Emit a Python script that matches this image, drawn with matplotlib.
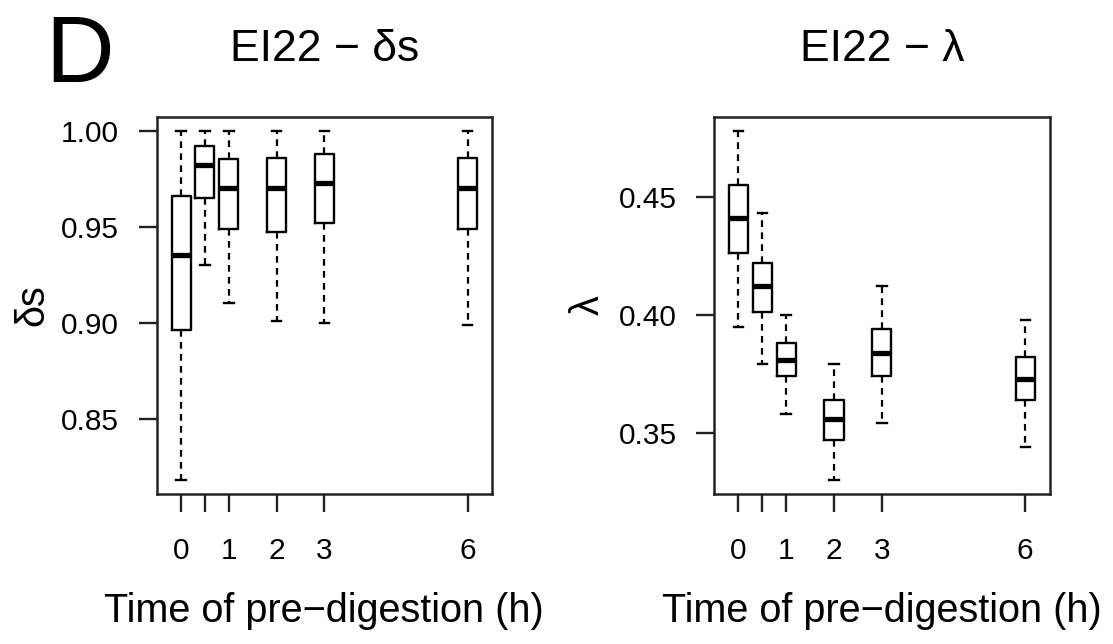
import matplotlib
matplotlib.use('Agg')
import matplotlib.pyplot as plt

plt.rcParams['font.family'] = ['Liberation Sans', 'DejaVu Sans']

# pre-digestion times (h) and box statistics
times = [0, 0.5, 1, 2, 3, 6]
tick_labels = ['0', '', '1', '2', '3', '6']

ds_whislo = [0.818, 0.930, 0.910, 0.901, 0.900, 0.899]
ds_q1 = [0.896, 0.965, 0.949, 0.947, 0.952, 0.949]
ds_med = [0.935, 0.982, 0.970, 0.970, 0.973, 0.970]
ds_q3 = [0.966, 0.992, 0.985, 0.986, 0.988, 0.986]
ds_whishi = [1.000, 1.000, 1.000, 1.000, 1.000, 1.000]

lam_whislo = [0.395, 0.379, 0.358, 0.330, 0.354, 0.344]
lam_q1 = [0.426, 0.401, 0.374, 0.347, 0.374, 0.364]
lam_med = [0.441, 0.412, 0.381, 0.356, 0.384, 0.373]
lam_q3 = [0.455, 0.422, 0.388, 0.364, 0.394, 0.382]
lam_whishi = [0.478, 0.443, 0.400, 0.379, 0.412, 0.398]


def make_stats(lo, q1, med, q3, hi):
    return [dict(whislo=a, q1=b, med=c, q3=d, whishi=e, fliers=[])
            for a, b, c, d, e in zip(lo, q1, med, q3, hi)]


def draw_panel(ax, stats, yticks, ylabel, title):
    ax.bxp(stats, positions=times, widths=0.4, capwidths=0.2,
           showfliers=False, manage_ticks=False,
           boxprops=dict(color='black', linewidth=1.7),
           medianprops=dict(color='black', linewidth=3.8, solid_capstyle='butt'),
           whiskerprops=dict(color='black', linewidth=1.6, linestyle=(0, (3, 2.4))),
           capprops=dict(color='black', linewidth=1.7))
    lo = min(s['whislo'] for s in stats)
    hi = max(s['whishi'] for s in stats)
    ext = 0.04 * (hi - lo)
    ax.set_ylim(lo - ext, hi + ext)
    ax.set_xlim(-0.51, 6.51)
    ax.set_xticks(times)
    ax.set_xticklabels(tick_labels, fontsize=21.5)
    ax.set_yticks(yticks)
    ax.set_yticklabels([f'{v:.2f}' for v in yticks], fontsize=21.5)
    ax.tick_params(axis='both', direction='out', length=13, width=1.7,
                   color='#222222')
    ax.tick_params(axis='x', pad=18)
    ax.tick_params(axis='y', pad=14)
    for sp in ax.spines.values():
        sp.set_linewidth(1.8)
        sp.set_color('#222222')
    ax.set_title(title, fontsize=32, pad=40)
    ax.set_xlabel('Time of pre\u2212digestion (h)', fontsize=28.5)
    ax.xaxis.set_label_coords(0.5, -(621.7 - 494) / 377.3)
    ax.xaxis.label.set_va('baseline')
    ax.set_ylabel(ylabel, fontsize=28.5)
    ax.yaxis.label.set_va('baseline')


fig = plt.figure(figsize=(11.13, 6.44), dpi=100)
ax1 = fig.add_axes([156.7 / 1113, 150 / 644, 335.3 / 1113, 377.3 / 644])
ax2 = fig.add_axes([714 / 1113, 150 / 644, 335.7 / 1113, 377.3 / 644])

draw_panel(ax1, make_stats(ds_whislo, ds_q1, ds_med, ds_q3, ds_whishi),
           [0.85, 0.90, 0.95, 1.00], '\u03b4s', 'EI22 \u2212 \u03b4s')
ax1.yaxis.set_label_coords(-(156.7 - 43) / 335.3, 0.5)

draw_panel(ax2, make_stats(lam_whislo, lam_q1, lam_med, lam_q3, lam_whishi),
           [0.35, 0.40, 0.45], '\u03bb', 'EI22 \u2212 \u03bb')
ax2.yaxis.set_label_coords(-(714 - 599) / 335.7, 0.5)

fig.text(45 / 1113, 1 - 82 / 644, 'D', fontsize=68.5, ha='left', va='baseline')

fig.savefig('out.png', dpi=100)
